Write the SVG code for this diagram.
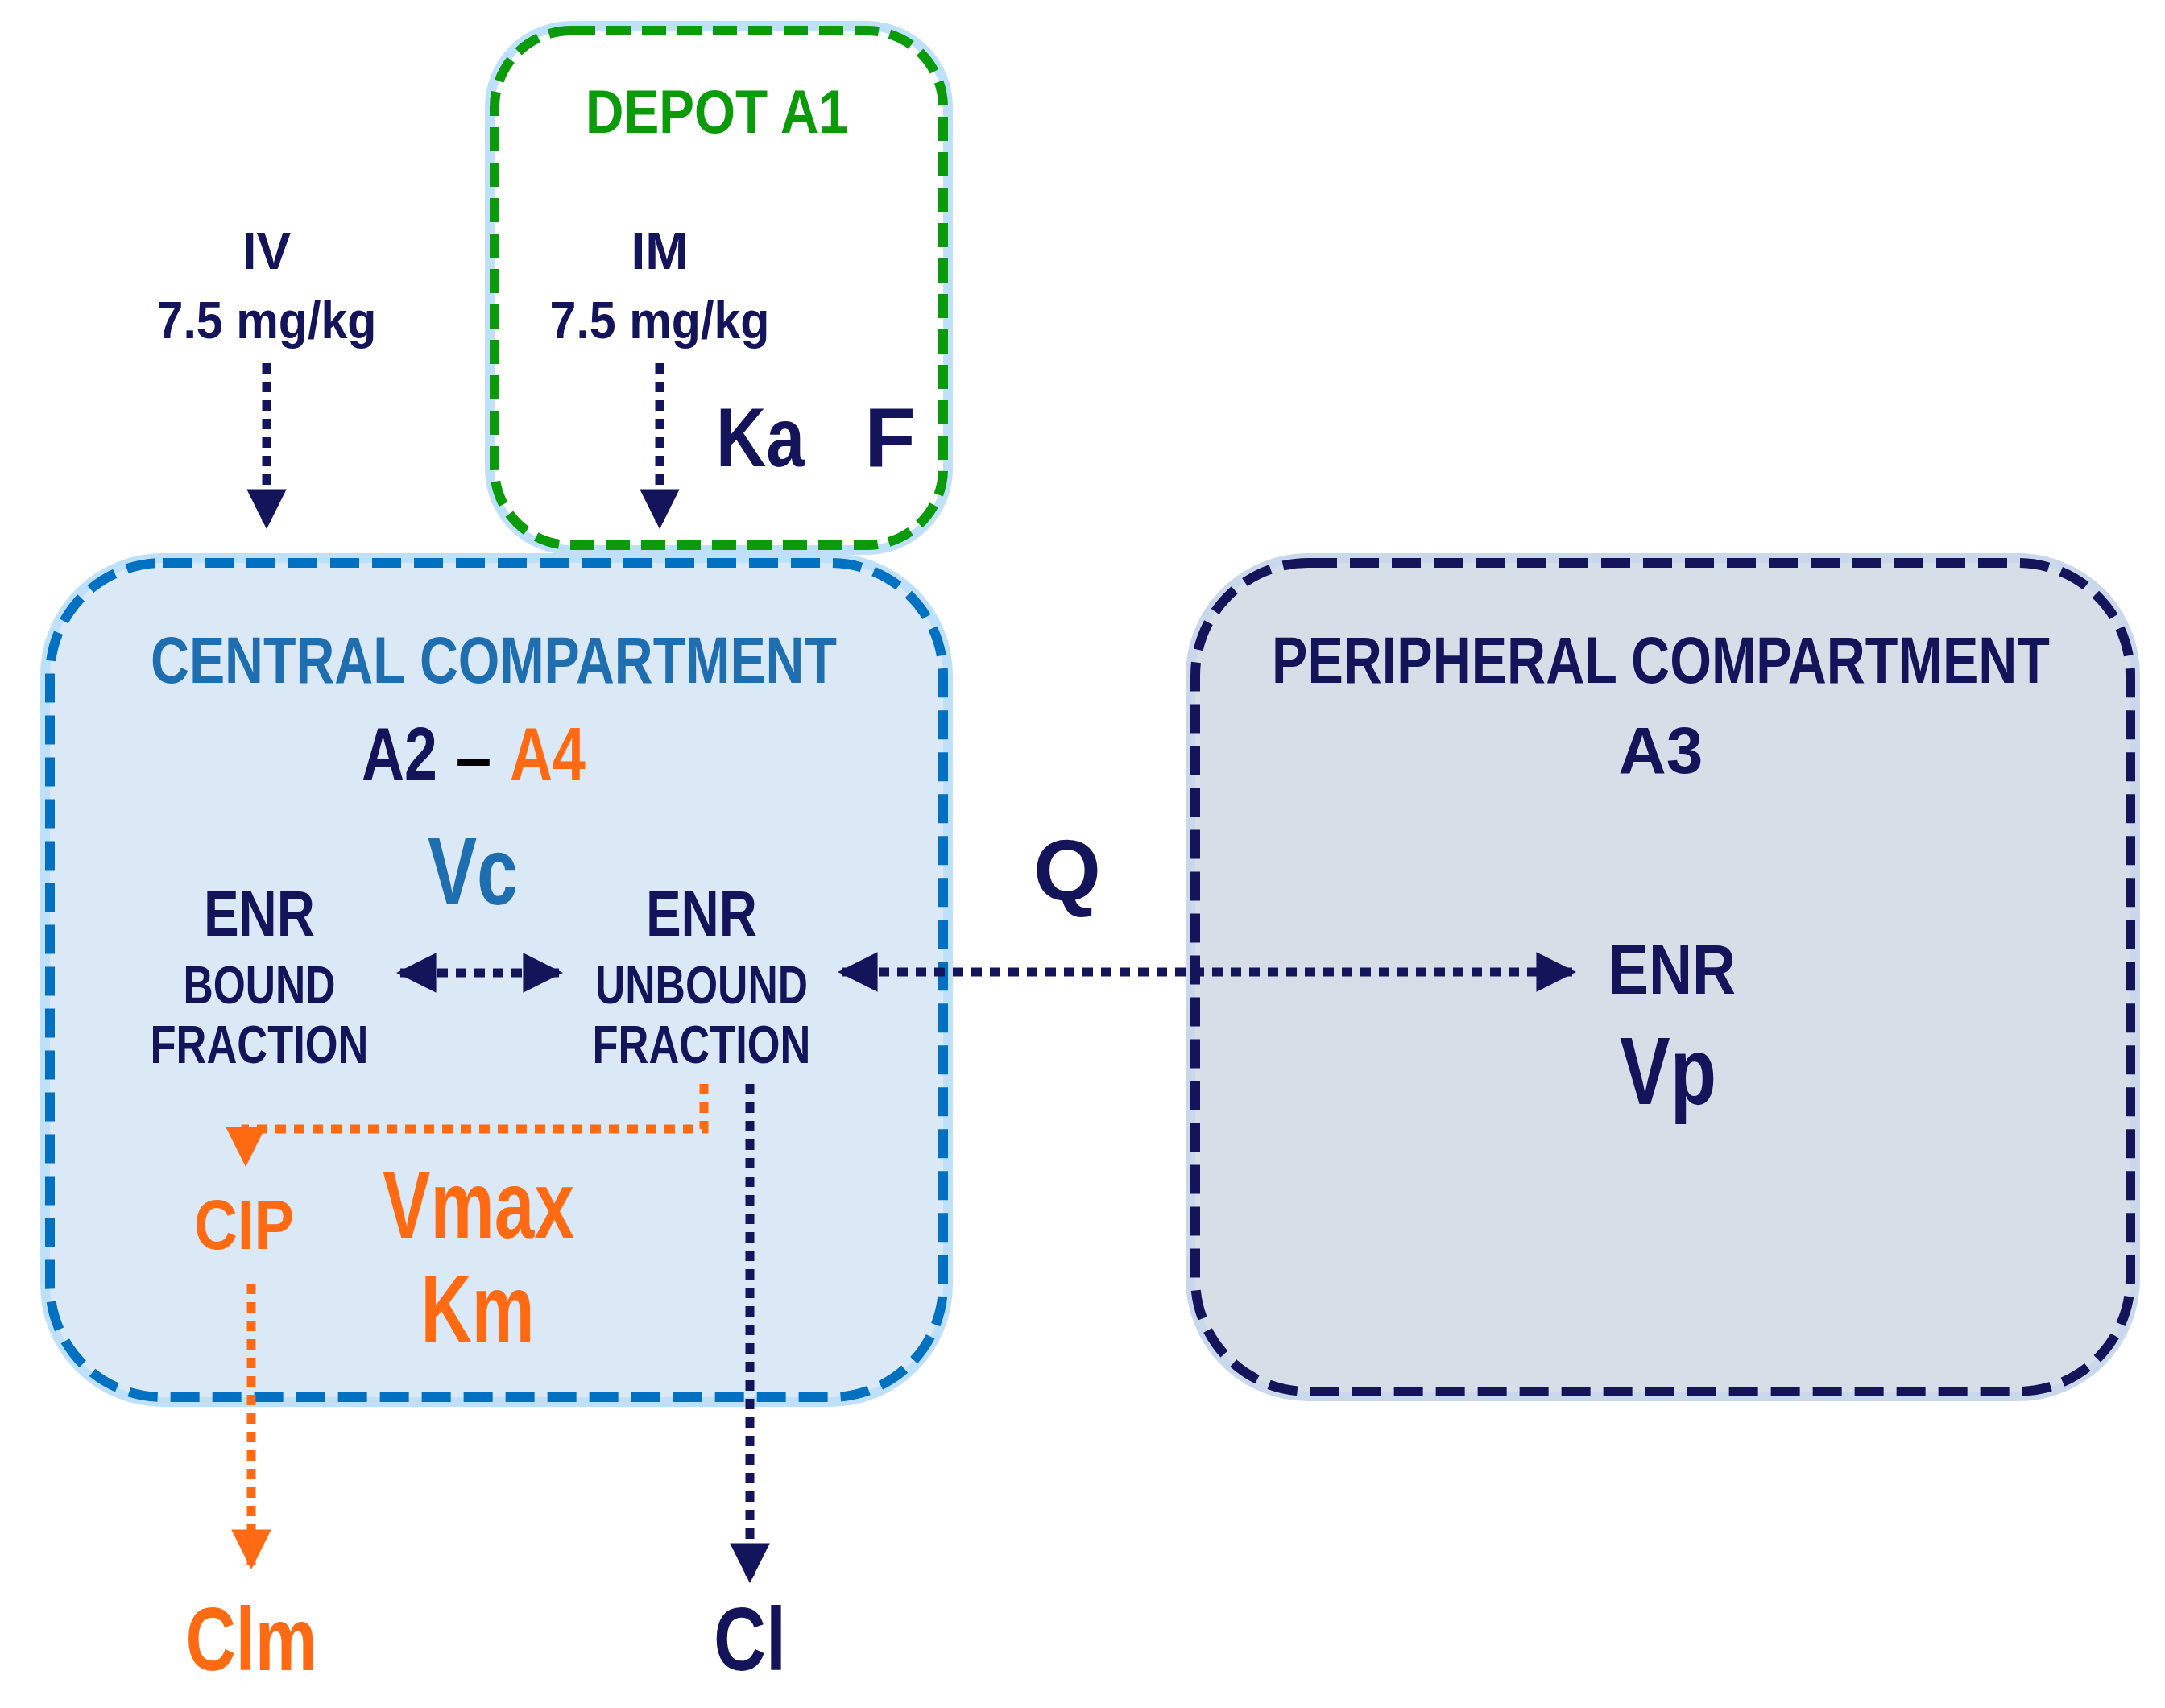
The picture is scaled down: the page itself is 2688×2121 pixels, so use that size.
<svg xmlns="http://www.w3.org/2000/svg" width="2688" height="2121" viewBox="0 0 2688 2121">
<defs>
<style>
text{font-family:"Liberation Sans",Arial,sans-serif;font-weight:bold;text-anchor:middle}
.n{fill:#14145a}.o{fill:#ff6a13}.b{fill:#1f6fb0}.g{fill:#0a9a0a}
.dn{stroke:#14145a;stroke-width:11;stroke-dasharray:13 10;fill:none}
.do{stroke:#ff6a13;stroke-width:11;stroke-dasharray:13 10;fill:none}
</style>
<marker id="an" viewBox="0 0 10 10" refX="9" refY="5" markerWidth="4.5" markerHeight="4.5" orient="auto-start-reverse"><path d="M0,0L10,5L0,10z" fill="#14145a"/></marker>
<marker id="ao" viewBox="0 0 10 10" refX="9" refY="5" markerWidth="4.5" markerHeight="4.5" orient="auto-start-reverse"><path d="M0,0L10,5L0,10z" fill="#ff6a13"/></marker>
</defs>
<g id="central">
<rect x="62" y="699" width="1109" height="1036" rx="140" fill="#dbe8f5" stroke="#bfe0fb" stroke-width="24"/>
<rect x="62" y="699" width="1109" height="1036" rx="140" fill="#dbe8f5" stroke="#0070c0" stroke-width="12" stroke-dasharray="36 16"/>
<text x="613" y="848" font-size="82" class="b" textLength="852" lengthAdjust="spacingAndGlyphs">CENTRAL COMPARTMENT</text>
<text x="496" y="968" font-size="92" class="n" textLength="94" lengthAdjust="spacingAndGlyphs">A2</text>
<text x="588" y="968" font-size="80" fill="#000">–</text>
<text x="680" y="968" font-size="92" class="o" textLength="94" lengthAdjust="spacingAndGlyphs">A4</text>
<text x="587" y="1123" font-size="118" class="b" textLength="112" lengthAdjust="spacingAndGlyphs">Vc</text>
<text x="322" y="1162" font-size="80" class="n" textLength="138" lengthAdjust="spacingAndGlyphs">ENR</text>
<text x="322" y="1246" font-size="66" class="n" textLength="189" lengthAdjust="spacingAndGlyphs">BOUND</text>
<text x="322" y="1320" font-size="66" class="n" textLength="271" lengthAdjust="spacingAndGlyphs">FRACTION</text>
<text x="871" y="1162" font-size="80" class="n" textLength="138" lengthAdjust="spacingAndGlyphs">ENR</text>
<text x="871" y="1246" font-size="66" class="n" textLength="264" lengthAdjust="spacingAndGlyphs">UNBOUND</text>
<text x="871" y="1320" font-size="66" class="n" textLength="271" lengthAdjust="spacingAndGlyphs">FRACTION</text>
<text x="303" y="1551" font-size="88" class="o" textLength="124" lengthAdjust="spacingAndGlyphs">CIP</text>
<text x="594" y="1537" font-size="118" class="o" textLength="238" lengthAdjust="spacingAndGlyphs">Vmax</text>
<text x="593" y="1666" font-size="118" class="o" textLength="141" lengthAdjust="spacingAndGlyphs">Km</text>
</g>
<g id="depot">
<rect x="614" y="38" width="557" height="639" rx="95" fill="#fff" stroke="#bfe0fb" stroke-width="24"/>
<rect x="614" y="38" width="557" height="639" rx="95" fill="#fff" stroke="#0a9a0a" stroke-width="12" stroke-dasharray="30 14"/>
<text x="890" y="165" font-size="76" class="g" textLength="326" lengthAdjust="spacingAndGlyphs">DEPOT A1</text>
<text x="819" y="334" font-size="64" class="n">IM</text>
<text x="819" y="420" font-size="64" class="n" textLength="273" lengthAdjust="spacingAndGlyphs">7.5 mg/kg</text>
<text x="944" y="579" font-size="104" class="n" textLength="110" lengthAdjust="spacingAndGlyphs">Ka</text>
<text x="1105" y="579" font-size="104" class="n">F</text>
</g>
<g id="peripheral">
<rect x="1484" y="699" width="1161" height="1029" rx="140" fill="#d6dee8" stroke="#c9d8ea" stroke-width="24"/>
<rect x="1484" y="699" width="1161" height="1029" rx="140" fill="#d6dee8" stroke="#14145a" stroke-width="12" stroke-dasharray="36 16"/>
<text x="2062" y="848" font-size="82" class="n" textLength="966" lengthAdjust="spacingAndGlyphs">PERIPHERAL COMPARTMENT</text>
<text x="2062" y="960" font-size="82" class="n">A3</text>
<text x="2076" y="1234" font-size="88" class="n" textLength="158" lengthAdjust="spacingAndGlyphs">ENR</text>
<text x="2071" y="1371" font-size="118" class="n" textLength="120" lengthAdjust="spacingAndGlyphs">Vp</text>
</g>
<g id="labels">
<text x="331" y="334" font-size="64" class="n">IV</text>
<text x="331" y="420" font-size="64" class="n" textLength="273" lengthAdjust="spacingAndGlyphs">7.5 mg/kg</text>
<text x="1325" y="1118" font-size="108" class="n">Q</text>
<text x="312" y="2074" font-size="112" class="o" textLength="163" lengthAdjust="spacingAndGlyphs">Clm</text>
<text x="931" y="2074" font-size="112" class="n" textLength="90" lengthAdjust="spacingAndGlyphs">Cl</text>
</g>
<g id="connectors">
<path class="dn" d="M331,451V652" marker-end="url(#an)"/>
<path class="dn" d="M819,451V652" marker-end="url(#an)"/>
<path class="dn" d="M497,1208H694" marker-start="url(#an)" marker-end="url(#an)"/>
<path class="dn" d="M1045,1207H1952" marker-start="url(#an)" marker-end="url(#an)"/>
<path class="do" d="M874,1346V1402H305V1444" marker-end="url(#ao)"/>
<path class="do" d="M312,1594V1944" marker-end="url(#ao)"/>
<path class="dn" d="M931,1346V1961" marker-end="url(#an)"/>
</g>
</svg>
